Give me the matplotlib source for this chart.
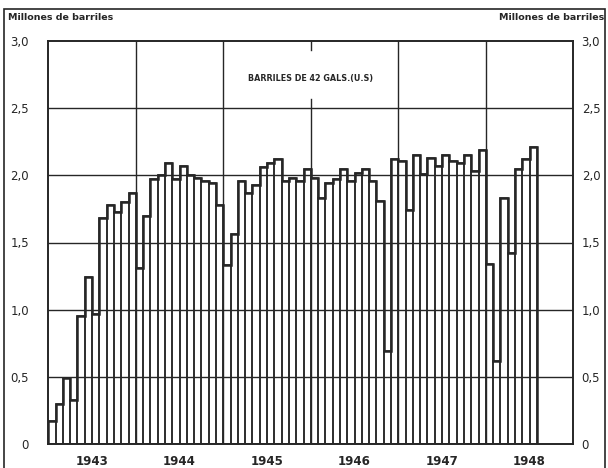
import numpy as np
import matplotlib.pyplot as plt
from matplotlib.patches import Rectangle

# monthly output, millions of barrels (Jan 1943 .. Jul 1948)
prod_1943 = [0.17, 0.30, 0.49, 0.33, 0.95, 1.24, 0.97, 1.68, 1.78, 1.73, 1.80, 1.87]
prod_1944 = [1.31, 1.70, 1.97, 2.00, 2.09, 1.97, 2.07, 2.00, 1.98, 1.96, 1.94, 1.78]
prod_1945 = [1.33, 1.56, 1.96, 1.87, 1.93, 2.06, 2.09, 2.12, 1.96, 1.98, 1.96, 2.05]
prod_1946 = [1.98, 1.83, 1.94, 1.97, 2.05, 1.96, 2.02, 2.05, 1.96, 1.81, 0.69, 2.12]
prod_1947 = [2.11, 1.74, 2.15, 2.01, 2.13, 2.07, 2.15, 2.11, 2.09, 2.15, 2.03, 2.19]
prod_1948 = [1.34, 0.62, 1.83, 1.42, 2.05, 2.12, 2.21]

years = ['1943', '1944', '1945', '1946', '1947', '1948']
y_ticks = [0, 0.5, 1.0, 1.5, 2.0, 2.5, 3.0]
y_labels = ['0', '0,5', '1,0', '1,5', '2,0', '2,5', '3,0']

values = prod_1943 + prod_1944 + prod_1945 + prod_1946 + prod_1947 + prod_1948
months = np.arange(len(values))

ink = '#262626'
W, H = 608, 468

fig = plt.figure(figsize=(W / 100, H / 100), dpi=100)
ax = fig.add_axes([48.3 / W, 1 - 444 / H, 525 / W, 403 / H])

ax.bar(months, values, width=1, align='edge', fill=False,
       edgecolor=ink, linewidth=1.1, zorder=3)
# heavier outline along the tops, as in the printed chart
ax.stairs(values, np.arange(len(values) + 1), color=ink, linewidth=1.8, zorder=4)

# grid: horizontal every 0.5, vertical at year boundaries
for y in y_ticks[1:-1]:
    ax.axhline(y, color=ink, lw=1.0, zorder=2)
for i in range(1, len(years)):
    xb = 12 * i
    if xb == 36:
        # line broken behind the unit note, short stub at the top
        ax.plot([xb, xb], [0, 2.57], color=ink, lw=1.0, zorder=2)
        ax.plot([xb, xb], [2.93, 3.0], color=ink, lw=1.0, zorder=2)
    else:
        ax.axvline(xb, color=ink, lw=1.0, zorder=2)

ax.text(36, 2.72, 'BARRILES DE 42 GALS.(U.S)', ha='center', va='center',
        fontsize=5.8, fontweight='bold', color=ink)

ax.set_xlim(0, 72)
ax.set_ylim(0, 3)
ax.set_xticks([12 * i + 6 for i in range(len(years))], years)
ax.set_yticks(y_ticks, y_labels)
ax.tick_params(axis='x', length=0, pad=8, labelsize=8.5, colors=ink)
ax.tick_params(axis='y', length=0, pad=14, labelsize=8.5, colors=ink)
for lab in ax.get_xticklabels():
    lab.set_fontweight('bold')
for s in ax.spines.values():
    s.set_color(ink)
    s.set_linewidth(1.4)

ax2 = ax.twinx()
ax2.set_ylim(0, 3)
ax2.set_yticks(y_ticks, y_labels)
ax2.tick_params(axis='y', length=0, pad=6, labelsize=8.5, colors=ink)
for s in ax2.spines.values():
    s.set_visible(False)

fig.text(8 / W, 1 - 17 / H, 'Millones de barriles', ha='left', va='center',
         fontsize=6.8, color=ink, fontweight='semibold')
fig.text(604 / W, 1 - 17 / H, 'Millones de barriles', ha='right', va='center',
         fontsize=6.8, color=ink, fontweight='semibold')

# outer frame of the plate
fig.add_artist(Rectangle((4 / W, -0.02), 601 / W, 1.02 - 9 / H,
                         transform=fig.transFigure, fill=False,
                         edgecolor=ink, linewidth=1.2))

fig.savefig('out.png', dpi=100)
